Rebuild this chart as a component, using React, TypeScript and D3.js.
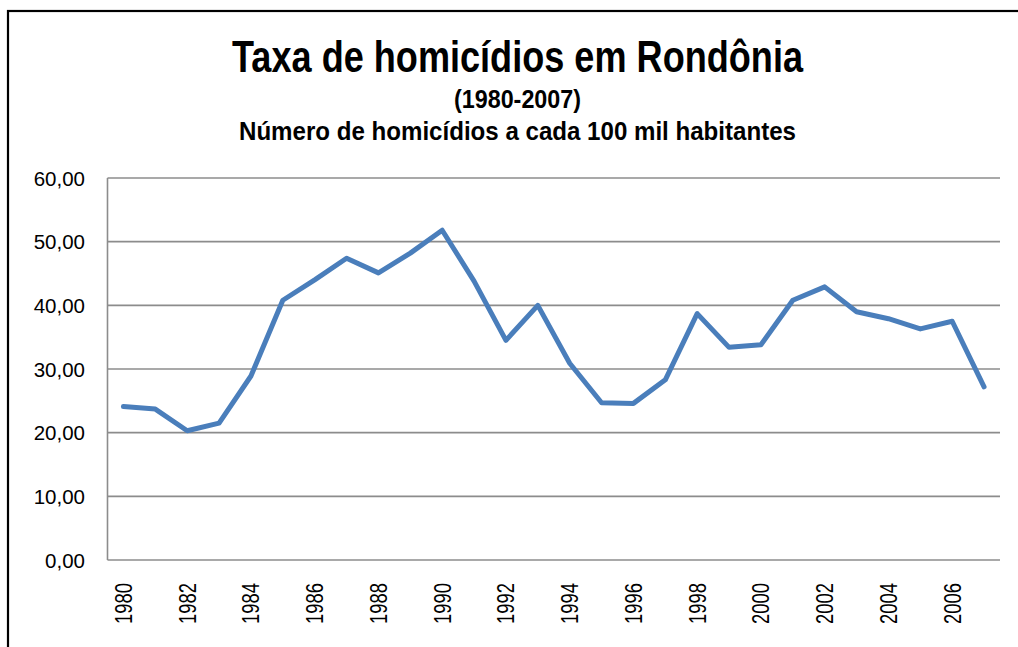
import { useRef, useEffect } from "react";
import * as d3 from "d3";

const years = d3.range(1980, 2008);
const rates = [
  24.1, 23.7, 20.3, 21.5, 28.9, 40.8, 44.0, 47.4, 45.1, 48.2, 51.8, 43.8, 34.5, 40.0,
  30.9, 24.7, 24.6, 28.3, 38.7, 33.4, 33.8, 40.8, 42.9, 39.0, 37.9, 36.3, 37.5, 27.2,
];
const yTicks = [0, 10, 20, 30, 40, 50, 60];
const xTickYears = years.filter((y) => y % 2 === 0);

const title = "Taxa de homicídios em Rondônia";
const subtitle = "(1980-2007)";
const unitLine = "Número de homicídios a cada 100 mil habitantes";

const W = 1018;
const H = 647;
const font = "'Liberation Sans', Arial, sans-serif";

export default function App() {
  const ref = useRef<SVGSVGElement>(null);

  useEffect(() => {
    if (!ref.current) return;
    const svg = d3.select(ref.current);
    svg.selectAll("*").remove();

    const plot = { left: 107.5, right: 1000, top: 178, bottom: 560 };

    // frame
    svg
      .append("rect")
      .attr("x", 8)
      .attr("y", 11)
      .attr("width", W + 20)
      .attr("height", H + 20)
      .attr("fill", "white")
      .attr("stroke", "#000")
      .attr("stroke-width", 2.2);

    // titles (narrow bold look via textLength)
    const titles = [
      { text: title, size: 45, y: 72, len: 571 },
      { text: subtitle, size: 26, y: 108, len: 127 },
      { text: unitLine, size: 25, y: 140, len: 557 },
    ];
    svg
      .append("g")
      .selectAll("text")
      .data(titles)
      .join("text")
      .attr("x", 517.5)
      .attr("y", (d) => d.y)
      .attr("text-anchor", "middle")
      .attr("font-family", font)
      .attr("font-weight", "bold")
      .attr("font-size", (d) => d.size)
      .attr("textLength", (d) => d.len)
      .attr("lengthAdjust", "spacingAndGlyphs")
      .text((d) => d.text);

    const x = d3.scalePoint<number>().domain(years).range([plot.left, plot.right]).padding(0.5);
    const y = d3.scaleLinear().domain([0, 60]).range([plot.bottom, plot.top]);

    // gridlines
    svg
      .append("g")
      .selectAll("line")
      .data(yTicks)
      .join("line")
      .attr("x1", plot.left)
      .attr("x2", plot.right)
      .attr("y1", (d) => y(d))
      .attr("y2", (d) => y(d))
      .attr("stroke", "#8c8c8c")
      .attr("stroke-width", 1.6);

    // y axis line
    svg
      .append("line")
      .attr("x1", plot.left)
      .attr("x2", plot.left)
      .attr("y1", plot.top)
      .attr("y2", plot.bottom)
      .attr("stroke", "#8c8c8c")
      .attr("stroke-width", 1.6);

    const fmt = (v: number) => d3.format(".2f")(v).replace(".", ",");

    svg
      .append("g")
      .selectAll("text")
      .data(yTicks)
      .join("text")
      .attr("x", 85)
      .attr("y", (d) => y(d) + 7.5)
      .attr("text-anchor", "end")
      .attr("font-family", font)
      .attr("font-size", 20.5)
      .attr("fill", "#000")
      .text((d) => fmt(d));

    svg
      .append("g")
      .selectAll("text")
      .data(xTickYears)
      .join("text")
      .attr("transform", (d) => `translate(${x(d)! + 8.5},583) rotate(-90)`)
      .attr("text-anchor", "end")
      .attr("font-family", font)
      .attr("font-size", 23)
      .attr("textLength", 41)
      .attr("lengthAdjust", "spacingAndGlyphs")
      .attr("fill", "#000")
      .text((d) => String(d));

    const line = d3
      .line<number>()
      .x((_, i) => x(years[i])!)
      .y((d) => y(d));

    svg
      .append("path")
      .datum(rates)
      .attr("fill", "none")
      .attr("stroke", "#4a7ebb")
      .attr("stroke-width", 5)
      .attr("stroke-linejoin", "round")
      .attr("stroke-linecap", "round")
      .attr("d", line);
  }, []);

  return (
    <svg
      ref={ref}
      width={W}
      height={H}
      style={{ position: "absolute", left: 0, top: 0, background: "white" }}
    />
  );
}
